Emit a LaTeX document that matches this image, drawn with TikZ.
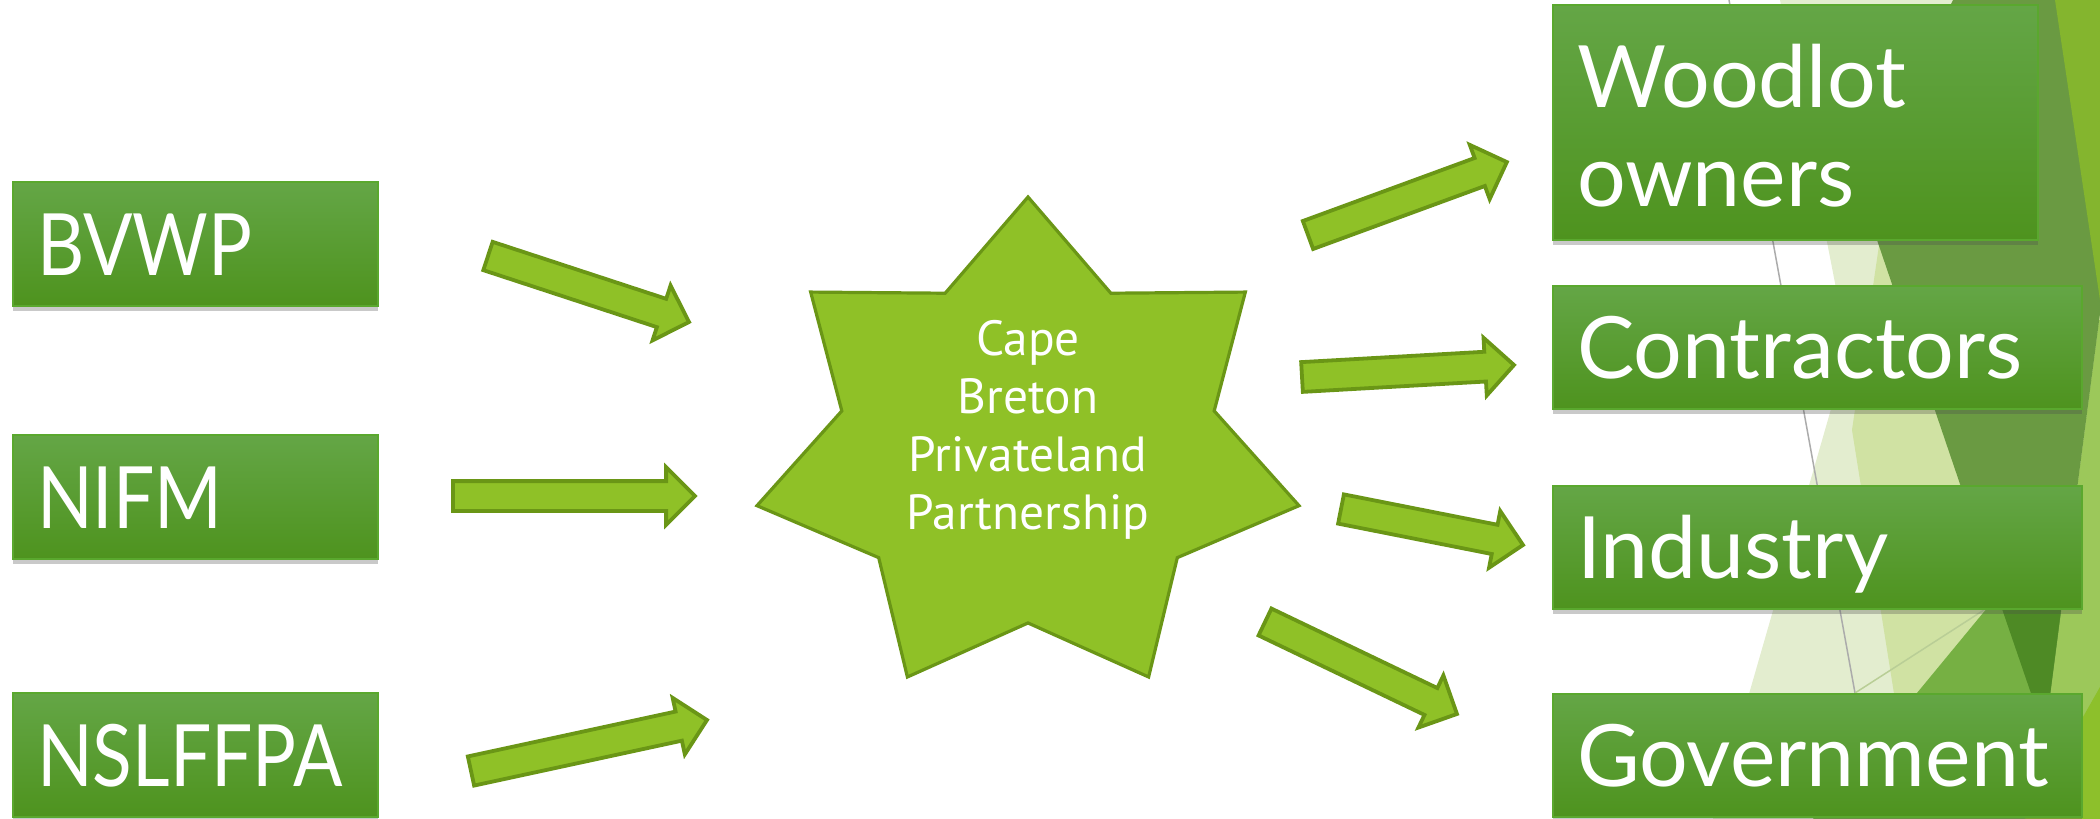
\documentclass[tikz,border=0pt]{standalone}
\usepackage{fontspec}
\newfontfamily\boxfont{Lato}
\newfontfamily\leftboxfont[FakeStretch=0.85]{Lato}
\newfontfamily\starfont{PT Sans}
\usetikzlibrary{shapes.arrows,calc,shadows}
\definecolor{arrowfill}{HTML}{8FC127}
\definecolor{arrowline}{HTML}{6A9616}
\definecolor{boxtop}{HTML}{64A646}
\definecolor{boxbot}{HTML}{4E931E}
\definecolor{boxline}{HTML}{5AA82E}
\definecolor{bgpale}{HTML}{E3EDCF}
\definecolor{bglight}{HTML}{D0E2A3}
\definecolor{bgmid}{HTML}{76B043}
\definecolor{bgright}{HTML}{9CC85A}
\definecolor{bgolive}{HTML}{6A9A42}
\definecolor{bgdark}{HTML}{4E8A25}
\definecolor{bgbright}{HTML}{84B52E}
\definecolor{bgbrightb}{HTML}{8DC02B}
\definecolor{bgline}{HTML}{ABABAB}
\definecolor{bgfaint}{HTML}{B9CE96}
\newcommand\blockarrow[3]{%
  \path let \p1=(#2), \p2=(#3), \n1={atan2(\y2-\y1,\x2-\x1)}, \n2={veclen(\x2-\x1,\y2-\y1)} in
    node[barrow, rotate=\n1, minimum height=\n2, anchor=tail] (#1) at (\p1) {};}
\begin{document}
\begin{tikzpicture}[x=0.5pt,y=-0.5pt,
  box/.style={rectangle, draw=boxline, line width=0.75pt, top color=boxtop, bottom color=boxbot,
    text=white, font=\boxfont\fontsize{43pt}{49.5pt}\selectfont, inner xsep=12pt, inner ysep=0pt,
    outer sep=0pt, text height=31pt, text depth=0pt, align=left, anchor=north west,
    drop shadow={shadow xshift=0pt, shadow yshift=-2.5pt, opacity=0.3, fill=black!70}},
  leftbox/.style={box, font=\leftboxfont\fontsize{43pt}{49.5pt}\selectfont,
    minimum width=182.5pt, text width=158.5pt, minimum height=62pt},
  rightbox/.style={box, minimum width=264.5pt, text width=240.5pt, minimum height=61.5pt},
  barrow/.style={single arrow, draw=arrowline, fill=arrowfill, line width=1.9pt,
    inner xsep=0pt, inner ysep=6.5pt, outer sep=0pt, single arrow head extend=7pt,
    single arrow tip angle=90},
  hubshape/.style={draw=arrowline, fill=arrowfill, line width=1.6pt, line join=miter},
  hubtext/.style={text=white, align=center, font=\starfont\fontsize{24.7pt}{29pt}\selectfont}
]
\useasboundingbox (0,0) rectangle (2100,819);
\begin{scope}
\clip (0,0) rectangle (2100,819);
% background facets
\fill[bgpale] (1780,0) -- (1848,350) -- (1713,819) -- (2100,819) -- (2100,0) -- cycle;
\fill[bglight] (1890,170) -- (1852,430) -- (1914,819) -- (2100,819) -- (2100,170) -- cycle;
\fill[bgmid] (2101,470) -- (1813,819) -- (2100,819) -- cycle;
\fill[bgright] (2099,320) -- (2045,734) -- (2045,819) -- (2100,819) -- (2100,320) -- cycle;
\fill[bgolive] (1953,0) -- (1860,190) -- (2045,734) -- (2141,0) -- cycle;
\fill[bgdark] (1997.4,595.4) -- (2075,501) -- (2045,734) -- cycle;
\fill[bgbright] (2055,0) -- (2100,0) -- (2100,300) -- cycle;
\fill[bgbrightb] (2100,687) -- (2025,819) -- (2100,819) -- cycle;
\draw[bgline, line width=0.75pt] (1729,0) -- (1855,693);
\draw[bgfaint, line width=0.75pt] (1855,693) -- (1987,608);
\end{scope}

% source boxes
\node[leftbox] (bvwp) at (13,182) {BVWP};
\node[leftbox] (nifm) at (13,435) {NIFM};
\node[leftbox] (nslffpa) at (13,693) {NSLFFPA};
% target boxes
\node[box, minimum width=242.5pt, text width=218.5pt, minimum height=117.5pt, text depth=46.5pt] (woodlot) at (1553,5) {Woodlot\\owners};
\node[rightbox] (contractors) at (1553,286) {Contractors};
\node[rightbox] (industry) at (1553,486) {Industry};
\node[rightbox] (government) at (1553,694) {Government};

% hub star
\begin{scope}[shift={(1028,449.5)}, xscale=278, yscale=-252.5]
\draw[hubshape] (90:1) -- (64.286:0.687) -- (38.571:1) -- (12.857:0.687) -- (-12.857:1)
  -- (-38.571:0.687) -- (-64.286:1) -- (-90:0.687) -- (-115.714:1) -- (-141.429:0.687)
  -- (-167.143:1) -- (167.143:0.687) -- (141.429:1) -- (115.714:0.687) -- cycle;
\end{scope}
\node[hubtext] (hub) at (1028,430) {Cape\\Breton\\Privateland\\Partnership};

% arrow ends
\coordinate (a1s) at (488,256);  \coordinate (a1e) at (689,322);
\coordinate (a2s) at (453,496);  \coordinate (a2e) at (695,496);
\coordinate (a3s) at (471,771);  \coordinate (a3e) at (707,720);
\coordinate (a4s) at (1308,235); \coordinate (a4e) at (1507,162);
\coordinate (a5s) at (1302,377); \coordinate (a5e) at (1514,365);
\coordinate (a6s) at (1341,509); \coordinate (a6e) at (1523,545);
\coordinate (a7s) at (1265,622); \coordinate (a7e) at (1457,714);
\blockarrow{arr1}{a1s}{a1e}
\blockarrow{arr2}{a2s}{a2e}
\blockarrow{arr3}{a3s}{a3e}
\blockarrow{arr4}{a4s}{a4e}
\blockarrow{arr5}{a5s}{a5e}
\blockarrow{arr6}{a6s}{a6e}
\blockarrow{arr7}{a7s}{a7e}
\end{tikzpicture}
\end{document}
